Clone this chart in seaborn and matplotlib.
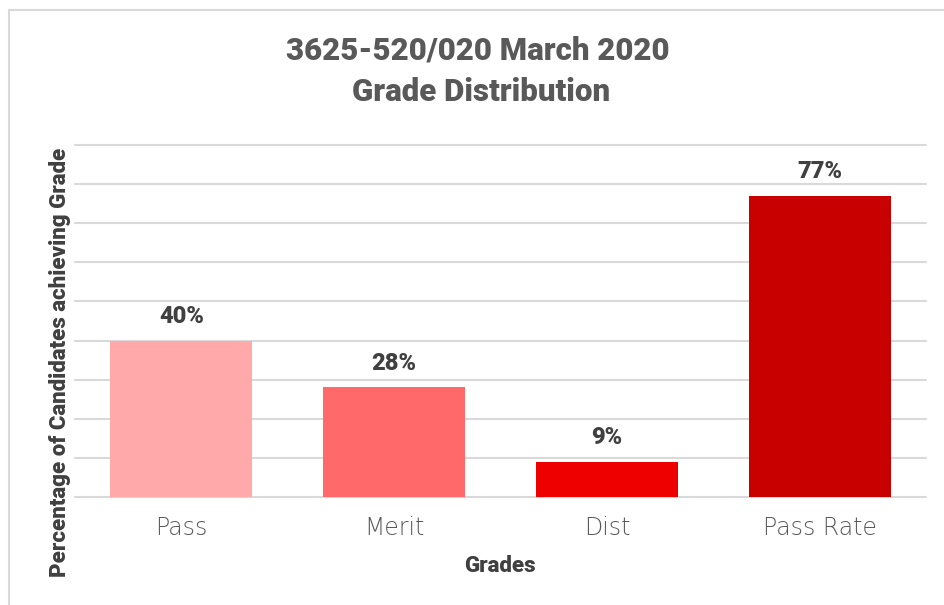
import matplotlib
matplotlib.use('Agg')
import matplotlib.pyplot as plt
import matplotlib.patches as patches
import seaborn as sns
import pandas as pd

grades = ['Pass', 'Merit', 'Dist', 'Pass Rate']
percent = [40, 28, 9, 77]
bar_colors = ['#FFA9AB', '#FF6969', '#EE0000', '#C80000']
title_lines = ['3625-520/020 March 2020', 'Grade Distribution']

sns.set_theme(style='white')
plt.rcParams['font.family'] = ['DejaVu Sans']
bold_font = ['Roboto', 'DejaVu Sans']

df = pd.DataFrame({'grade': grades, 'pct': percent})

fig = plt.figure(figsize=(9.44, 6.05), dpi=100)
ax = fig.add_axes([75/944, 1-497/605, (926-75)/944, (497-145)/605])

sns.barplot(data=df, x='grade', y='pct', hue='grade', palette=bar_colors,
            width=0.667, legend=False, ax=ax, saturation=1, linewidth=0, zorder=3)

ax.set_ylim(0, 90)
ax.set_yticks(range(0, 91, 10))
ax.set_yticklabels([])
ax.tick_params(axis='y', length=0)
ax.tick_params(axis='x', length=0, pad=14)
ax.yaxis.grid(True, color='#D9D9D9', linewidth=1.5, zorder=0, clip_on=False)
for s in ax.spines.values():
    s.set_visible(False)
ax.set_xlabel('')
ax.set_ylabel('')
for lbl in ax.get_xticklabels():
    lbl.set_fontsize(17)
    lbl.set_color('#595959')
    lbl.set_fontweight('light')

for i, v in enumerate(percent):
    ax.text(i, v + 3.3, f'{v}%', ha='center', va='bottom', fontsize=17,
            fontweight='heavy', color='#404040', family=bold_font)

fig.text(478/944, 1-50/605, title_lines[0], ha='center', va='center', fontsize=22.5,
         fontweight='heavy', color='#595959', family=bold_font)
fig.text(481/944, 1-92/605, title_lines[1], ha='center', va='center', fontsize=22.5,
         fontweight='heavy', color='#595959', family=bold_font)
fig.text(500/944, 1-566/605, 'Grades', ha='center', va='center', fontsize=16,
         fontweight='heavy', color='#404040', family=bold_font)
fig.text(60/944, 1-362/605, 'Percentage of Candidates achieving Grade', ha='center',
         va='center', rotation=90, fontsize=16, fontweight='heavy', color='#404040',
         family=bold_font)

fig.patches.append(patches.Rectangle((9/944, -0.05), 1.0, 1.05 - 10/605,
                                     transform=fig.transFigure, fill=False,
                                     edgecolor='#D9D9D9', linewidth=1.5))

fig.savefig('out.png', dpi=100)
